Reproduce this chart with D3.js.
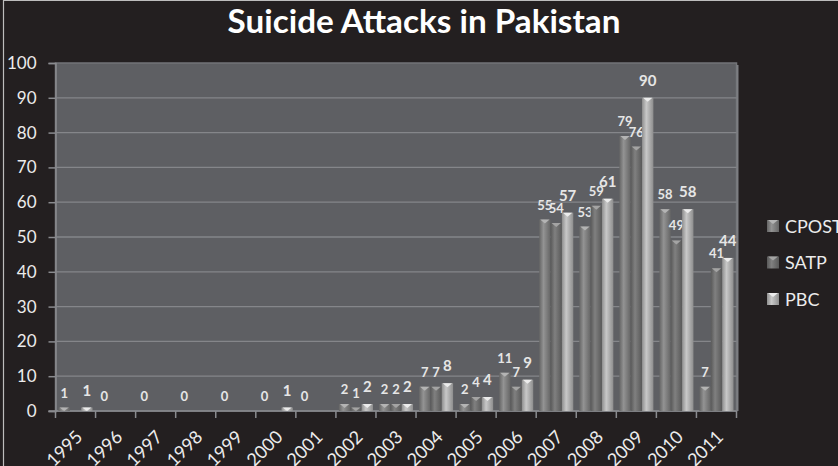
<!DOCTYPE html>
<html>
<head>
<meta charset="utf-8">
<script src="https://cdn.jsdelivr.net/npm/d3@7"></script>
<style>
  html, body { margin: 0; padding: 0; background: #231f20; }
  svg { display: block; }
</style>
</head>
<body>
<div id="chart"></div>
<script>
// Annual suicide attacks in Pakistan by source (null = no figure reported)
const years = ["1995","1996","1997","1998","1999","2000","2001","2002","2003","2004","2005","2006","2007","2008","2009","2010","2011"];
const cpost = [1, 0, 0, 0, 0, 0, 0, 2, 2, 7, 2, 11, 55, 53, 79, 58, 7];
const satp  = [null, null, null, null, null, null, null, 1, 2, 7, 4, 7, 54, 59, 76, 49, 41];
const pbc   = [1, null, null, null, null, 1, null, 2, 2, 8, 4, 9, 57, 61, 90, 58, 44];
const seriesNames = ["CPOST", "SATP", "PBC"];
const yTicks = [0, 10, 20, 30, 40, 50, 60, 70, 80, 90, 100];

const W = 838, H = 466;
const plot = { left: 55.5, right: 736.5, top: 63, bottom: 411 };

const svg = d3.select("#chart").append("svg")
  .attr("width", W).attr("height", H)
  .style("font-family", "Lato, 'Open Sans', sans-serif");

// bar shading: light streak left of centre, darker edges
const shades = [
  { id: "g0", edge: "#656565", mid: "#939393", cap: "#b4b4b4" },
  { id: "g1", edge: "#595959", mid: "#808080", cap: "#a4a4a4" },
  { id: "g2", edge: "#8e8e8e", mid: "#c8c8c8", cap: "#ececec" }
];
const defs = svg.append("defs");
shades.forEach(s => {
  const g = defs.append("linearGradient").attr("id", s.id)
    .attr("x1", "0%").attr("x2", "100%").attr("y1", "0%").attr("y2", "0%");
  g.append("stop").attr("offset", "0%").attr("stop-color", s.edge);
  g.append("stop").attr("offset", "38%").attr("stop-color", s.mid);
  g.append("stop").attr("offset", "100%").attr("stop-color", s.edge);
});

// background and thin frame
svg.append("rect").attr("width", W).attr("height", H).attr("fill", "#231f20");
svg.append("path").attr("d", `M3.5,${H} V0.5 H${W}`)
  .attr("fill", "none").attr("stroke", "#bdbdbd").attr("stroke-width", 1.2);

// title
const title = svg.append("text")
  .attr("x", 424).attr("y", 33)
  .attr("text-anchor", "middle")
  .attr("fill", "#ffffff")
  .attr("font-weight", "bold")
  .attr("font-size", 34)
  .text("Suicide Attacks in Pakistan");
{
  const len = title.node().getComputedTextLength();
  title.attr("font-size", 34 * 393 / len);
}

const x = d3.scaleBand().domain(years).range([plot.left, plot.right]).padding(0);
const xs = d3.scaleBand().domain(seriesNames).range([3, x.bandwidth() - 3]).padding(0);
const y = d3.scaleLinear().domain([0, 100]).range([plot.bottom, plot.top]);

// plot wall
svg.append("rect")
  .attr("x", plot.left).attr("y", plot.top)
  .attr("width", plot.right - plot.left).attr("height", plot.bottom - plot.top)
  .attr("fill", "#5e5f63").attr("stroke", "#737478").attr("stroke-width", 1.5);
svg.append("line")
  .attr("x1", plot.right + 1).attr("x2", plot.right + 1)
  .attr("y1", plot.top + 2).attr("y2", plot.bottom)
  .attr("stroke", "#7d7e82").attr("stroke-width", 2);

// y axis with gridlines
const yAxis = d3.axisLeft(y).tickValues(yTicks).tickSize(7).tickPadding(12);
const yg = svg.append("g").attr("transform", `translate(${plot.left},0)`).call(yAxis);
yg.select(".domain").attr("stroke", "#8a8b8f").attr("stroke-width", 1.5);
yg.selectAll(".tick line").attr("stroke", "#8a8b8f").attr("stroke-width", 1.5);
yg.selectAll(".tick text")
  .attr("fill", "#ececec").attr("font-size", 17)
  .attr("font-family", "Lato, 'Open Sans', sans-serif");

svg.append("g").selectAll("line")
  .data(yTicks.filter(v => v > 0 && v < 100))
  .join("line")
  .attr("x1", plot.left).attr("x2", plot.right)
  .attr("y1", d => y(d)).attr("y2", d => y(d))
  .attr("stroke", "#85868a").attr("stroke-width", 1.3);

// x axis
const xAxis = d3.axisBottom(x).tickSize(7).tickSizeOuter(0).tickFormat(() => "");
const xg = svg.append("g").attr("transform", `translate(0,${plot.bottom})`).call(xAxis);
xg.select(".domain").attr("stroke", "#8a8b8f").attr("stroke-width", 1.5)
  .attr("d", `M${plot.left - 7},0H${plot.right}`);
xg.selectAll(".tick").remove();
// tick marks sit on category boundaries
xg.selectAll("line.sep")
  .data(years.concat(["end"]))
  .join("line").attr("class", "sep")
  .attr("x1", (d, i) => plot.left + i * x.bandwidth())
  .attr("x2", (d, i) => plot.left + i * x.bandwidth())
  .attr("y1", 0).attr("y2", 7)
  .attr("stroke", "#8a8b8f").attr("stroke-width", 1.5);

svg.append("g").selectAll("text")
  .data(years)
  .join("text")
  .attr("transform", d => `translate(${x(d) + x.bandwidth() / 2 + 8},${plot.bottom + 27}) rotate(-45)`)
  .attr("text-anchor", "end")
  .attr("fill", "#ececec")
  .attr("font-size", 18)
  .text(d => d);

// bars
const table = [];
[cpost, satp, pbc].forEach((vals, si) => {
  vals.forEach((v, i) => {
    if (v !== null) table.push({ year: years[i], series: seriesNames[si], si, value: v });
  });
});

const bars = svg.append("g").selectAll("g").data(table).join("g");
bars.filter(d => d.value > 0).append("rect")
  .attr("x", d => x(d.year) + xs(d.series))
  .attr("width", xs.bandwidth())
  .attr("y", d => y(d.value))
  .attr("height", d => y(0) - y(d.value))
  .attr("fill", d => `url(#${shades[d.si].id})`);
bars.filter(d => d.value > 0).append("path")
  .attr("d", d => {
    const x0 = x(d.year) + xs(d.series), w = xs.bandwidth(), t = y(d.value);
    const h = Math.min(4, y(0) - t);
    return `M${x0 + 1},${t}H${x0 + w - 1}L${x0 + w / 2},${t + h}Z`;
  })
  .attr("fill", d => shades[d.si].cap);

// value labels
bars.append("text")
  .attr("x", d => x(d.year) + xs(d.series) + xs.bandwidth() / 2)
  .attr("y", d => y(d.value) - (d.si === 2 ? 12 : 10))
  .attr("text-anchor", "middle")
  .attr("fill", "#e6e6e6")
  .attr("font-weight", "bold")
  .attr("font-size", d => d.si === 2 ? 15 : 13)
  .text(d => d.value);

// legend
const lg = svg.append("g").selectAll("g").data(seriesNames).join("g")
  .attr("transform", (d, i) => `translate(767,${220 + i * 36.5})`);
lg.append("rect").attr("width", 12).attr("height", 12)
  .attr("fill", (d, i) => `url(#${shades[i].id})`);
lg.append("path").attr("d", "M1,0H11L6,4Z").attr("fill", (d, i) => shades[i].cap);
lg.append("text").attr("x", 18).attr("y", 12.5)
  .attr("fill", "#ececec").attr("font-size", 18)
  .text(d => d);
</script>
</body>
</html>
